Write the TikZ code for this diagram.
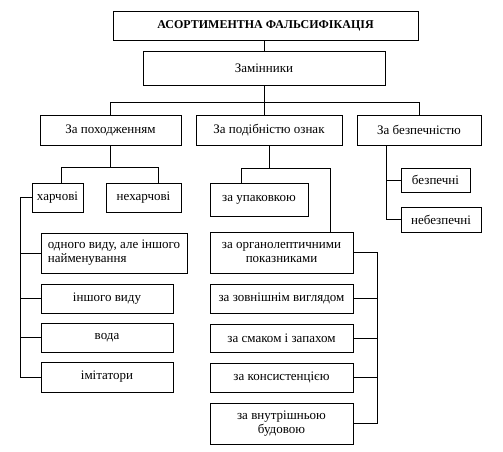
\documentclass[tikz,border=0pt]{standalone}
\usepackage{fontspec}
\setmainfont{Liberation Serif}
\begin{document}
\begin{tikzpicture}[x=1pt,y=-1pt,line width=0.6pt,
  blok/.style={draw,inner sep=0pt,align=center,font=\fontsize{13}{14}\selectfont},
  zag/.style={blok,font=\fontsize{12}{14}\selectfont\bfseries}]
\useasboundingbox (0,0) rectangle (503,452);
% верхні рівні
\node[zag,minimum width=305pt,minimum height=29pt] (fals) at (265.5,25.5) {АСОРТИМЕНТНА ФАЛЬСИФІКАЦІЯ};
\node[blok,minimum width=242pt,minimum height=34pt] (zam) at (264,68) {Замінники};
\node[blok,minimum width=141pt,minimum height=30pt] (pox) at (110.5,130) {За походженням};
\node[blok,minimum width=146pt,minimum height=30pt] (pod) at (269,130) {За подібністю ознак};
\node[blok,minimum width=124pt,minimum height=30pt] (bez) at (419,130) {За безпечністю};
\draw (fals.south -| zam.north) -- (zam.north);
\draw (zam.south) -- (zam.south |- pod.north);
\draw (pox.north) -- ++(0,-12) -| (bez.north);

% за походженням
\node[blok,minimum width=51pt,minimum height=29pt] (hp) at (57.5,197.5) {харчові};
\node[blok,minimum width=75pt,minimum height=29pt] (nhp) at (143.5,197.5) {нехарчові};
\node[blok,minimum width=146pt,minimum height=40pt,align=left] (od) at (114,253) {одного виду, але іншого\\найменування};
\node[blok,minimum width=132pt,minimum height=29pt] (insh) at (107,298.5) {іншого виду};
\node[blok,minimum width=132pt,minimum height=29pt] (voda) at (107,337.5) {вода};
\node[blok,minimum width=132pt,minimum height=30pt] (imit) at (107,377) {імітатори};
\coordinate (pj) at ([yshift=-22pt]pox.south);
\draw (pox.south) -- (pj);
\draw ([xshift=3.5pt]hp.north) |- (pj) -| ([xshift=14.5pt]nhp.north);
\draw (hp.west) -- ++(-11,0) coordinate (lj) |- (imit.west);
\foreach \n in {od,insh,voda}
  \draw (\n.west) -- (\n.west -| lj);

% за подібністю ознак
\node[blok,minimum width=98pt,minimum height=33pt] (up) at (259,199.5) {за упаковкою};
\node[blok,minimum width=143pt,minimum height=41pt] (org) at (281.5,252.5) {за органолептичними\\показниками};
\node[blok,minimum width=143pt,minimum height=29pt] (zov) at (281.5,298.5) {за зовнішнім виглядом};
\node[blok,minimum width=143pt,minimum height=28pt] (smak) at (281.5,338) {за смаком і запахом};
\node[blok,minimum width=143pt,minimum height=29pt] (kons) at (281.5,377.5) {за консистенцією};
\node[blok,minimum width=143pt,minimum height=41pt] (vnut) at (281.5,423.5) {за внутрішньою\\будовою};
\coordinate (dj) at ([yshift=-23pt]pod.south);
\draw (pod.south) -- (dj);
\draw ([xshift=-18pt]up.north) |- (dj) -| ([xshift=48.5pt]org.north);
\coordinate (rj) at ([xshift=23.5pt]org.east);
\draw (org.east) -- (rj) |- (vnut.east);
\foreach \n in {zov,smak,kons}
  \draw (\n.east) -- (\n.east -| rj);

% за безпечністю
\node[blok,minimum width=69pt,minimum height=24pt] (bzp) at (435.5,180) {безпечні};
\node[blok,minimum width=80pt,minimum height=25pt] (nbzp) at (441,219.5) {небезпечні};
\coordinate (bj) at ([xshift=-33pt]bez.south);
\draw (bj) |- (nbzp.west);
\draw (bzp.west) -- (bzp.west -| bj);
\end{tikzpicture}
\end{document}
